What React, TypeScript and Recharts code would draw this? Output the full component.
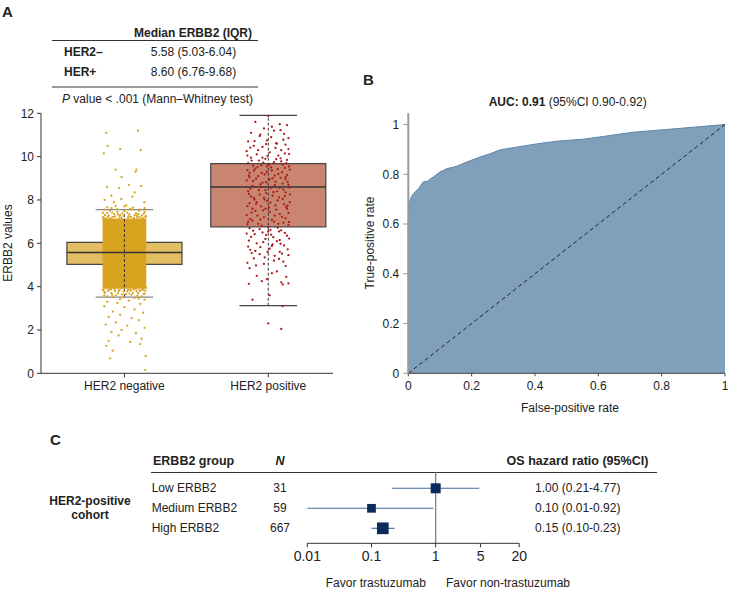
import React from 'react'
import {
  ComposedChart,
  AreaChart,
  ScatterChart,
  Area,
  Scatter,
  XAxis,
  YAxis,
  ReferenceArea,
  ReferenceLine,
} from 'recharts'

const FONT = '"Liberation Sans", Arial, Helvetica, sans-serif'
const INK = '#222'

// ---- panel A: ERBB2 by HER2 status ----
const groups = ['HER2 negative', 'HER2 positive']
const groupPos = [1, 2]
const q1 = [5.03, 6.76]
const medians = [5.58, 8.6]
const q3 = [6.04, 9.68]
const whiskLow = [3.52, 3.12]
const whiskHigh = [7.55, 11.9]
const erbbTicks = [0, 2, 4, 6, 8, 10, 12]

// solid middle of the HER2-negative jitter cloud (too dense to see single dots)
const negCoreLow = 3.9
const negCoreHigh = 7.15

// [jitter offset, ERBB2 value]
const negDots = [
  [-0.126, 11.1], [0.094, 11.2], [-0.117, 10.5], [-0.143, 10.15], [-0.029, 10.35], [0.113, 10.3],
  [-0.061, 9.4], [0.083, 9.4], [0.078, 9.3], [-0.02, 9.05], [-0.122, 8.6], [-0.038, 8.55],
  [0.031, 8.7], [0.117, 8.65], [0.055, 8.15], [0.071, 8.35], [-0.091, 8.2], [-0.022, 8.05],
  [-0.138, 8.0], [-0.073, 7.9], [0.138, 7.9], [0.013, 7.75],
  [-0.14, 7.55], [-0.1, 7.5], [-0.05, 7.58], [0.0, 7.48], [0.05, 7.55], [0.1, 7.5], [0.14, 7.45],
  [-0.12, 7.4], [-0.07, 7.35], [0.02, 7.42], [0.08, 7.38], [0.12, 7.3], [-0.03, 7.3], [-0.15, 7.2],
  [0.15, 7.25], [-0.09, 7.62], [0.06, 7.65],
  [-0.13, 7.15], [-0.08, 7.22], [-0.02, 7.18], [0.03, 7.25], [0.09, 7.2], [0.13, 7.12], [-0.11, 7.28],
  [0.07, 7.3], [-0.05, 7.45], [0.11, 7.55], [-0.15, 7.4], [0.04, 7.6], [-0.12, 7.66], [0.14, 7.62],
  [0.0, 7.7], [-0.06, 7.72],
  [-0.145, 7.19], [-0.115, 7.21], [-0.095, 7.17], [-0.065, 7.24], [-0.035, 7.2], [-0.005, 7.27],
  [0.025, 7.19], [0.045, 7.22], [0.065, 7.17], [0.085, 7.26], [0.105, 7.21], [0.125, 7.18],
  [0.145, 7.22], [-0.135, 7.3], [-0.045, 7.33], [0.035, 7.35], [0.095, 7.34], [-0.085, 7.42],
  [0.135, 7.36], [-0.015, 7.38],
  [-0.145, 3.86], [-0.115, 3.83], [-0.095, 3.87], [-0.065, 3.8], [-0.035, 3.85], [-0.005, 3.78],
  [0.025, 3.86], [0.045, 3.82], [0.065, 3.87], [0.085, 3.79], [0.105, 3.84], [0.125, 3.87],
  [0.145, 3.81], [-0.135, 3.72], [-0.045, 3.7], [0.035, 3.68], [0.095, 3.7], [-0.085, 3.62],
  [0.135, 3.66], [-0.015, 3.64],
  [-0.14, 3.75], [-0.09, 3.7], [-0.04, 3.8], [0.01, 3.65], [0.06, 3.72], [0.11, 3.8], [0.14, 3.68],
  [-0.12, 3.55], [-0.01, 3.5], [0.09, 3.58], [-0.06, 3.6], [0.04, 3.85], [-0.1, 3.9], [0.15, 3.95],
  [-0.15, 3.85],
  [-0.13, 3.95], [-0.07, 3.88], [-0.02, 3.92], [0.02, 3.78], [0.08, 3.9], [0.13, 3.86], [-0.11, 3.82],
  [0.05, 3.62], [-0.08, 3.52], [0.12, 3.55], [-0.14, 3.6], [0.1, 3.45], [-0.03, 3.42], [0.07, 3.48],
  [-0.12, 3.3], [-0.05, 3.25], [0.03, 3.35], [0.11, 3.2], [0.14, 3.4], [-0.14, 3.1], [0.0, 3.05],
  [0.07, 2.95], [-0.08, 2.85], [0.13, 2.8], [-0.03, 2.7], [-0.11, 2.6], [0.05, 2.55], [0.1, 2.45],
  [-0.06, 2.35], [-0.13, 2.25], [0.02, 2.2], [0.14, 2.1], [-0.02, 2.0], [-0.09, 1.9], [0.08, 1.85],
  [-0.04, 1.75], [0.12, 1.6], [-0.11, 1.5], [0.04, 1.45], [-0.126, 1.27], [-0.082, 1.04],
  [-0.1, 0.69], [0.147, 0.8], [0.145, 0.15], [0.11, 1.35],
]

const posDots = [
  [0.0, 11.88], [-0.09, 11.6], [0.13, 11.45], [-0.03, 11.3], [0.08, 11.5], [-0.12, 11.1], [0.04, 11.2],
  [0.11, 11.05], [-0.06, 10.95], [0.14, 10.85], [-0.14, 10.7], [-0.01, 10.75], [0.06, 10.6], [0.12, 10.55],
  [-0.1, 10.5], [0.02, 10.9], [-0.04, 10.45], [0.09, 10.3], [-0.15, 10.25], [0.14, 10.35],
  [-0.08, 10.1], [0.01, 10.2], [0.07, 10.05], [-0.12, 9.95], [-0.02, 9.9], [0.13, 9.85], [0.04, 9.75],
  [-0.14, 9.7], [-0.05, 9.6], [0.1, 9.62], [-0.09, 9.45], [0.02, 9.5], [0.15, 9.4], [-0.01, 9.3],
  [-0.13, 9.25], [0.07, 9.2], [-0.07, 9.1], [0.12, 9.05], [0.01, 8.95], [-0.15, 8.9], [0.05, 8.85],
  [-0.04, 8.8], [0.14, 8.7], [-0.11, 8.65], [0.08, 8.55], [-0.02, 8.45], [-0.14, 8.4], [0.12, 8.35],
  [-0.06, 8.25], [0.03, 8.2], [-0.1, 8.1], [0.1, 8.05], [-0.01, 7.95], [0.15, 7.9], [-0.13, 7.85],
  [0.05, 7.75], [-0.05, 7.7], [0.13, 7.6], [-0.09, 7.5], [0.01, 7.45], [0.08, 7.35], [-0.15, 7.3],
  [-0.03, 7.2], [0.12, 7.15], [-0.11, 7.05], [0.04, 7.0], [-0.07, 6.9], [0.14, 6.85], [0.0, 6.75],
  [-0.13, 6.7], [0.09, 6.6], [-0.04, 6.5], [0.02, 6.4], [-0.12, 6.3], [0.13, 6.35], [-0.02, 6.2],
  [0.06, 6.1], [-0.08, 6.0], [0.11, 5.9], [-0.14, 5.85], [0.01, 5.75], [0.08, 5.6], [-0.06, 5.5],
  [0.14, 5.45], [-0.1, 5.3], [0.04, 5.2], [-0.03, 5.05], [0.12, 4.95], [-0.13, 4.85], [0.06, 4.7],
  [-0.08, 4.5], [-0.01, 4.35], [0.09, 4.2], [-0.135, 4.13], [0.14, 4.15], [0.1, 4.1], [0.01, 3.6],
  [-0.11, 3.4], [0.1, 3.1], [0.0, 2.3], [0.09, 2.05],
  [-0.04, 9.95], [0.09, 9.78], [-0.1, 9.35], [0.03, 9.0], [-0.05, 8.6], [0.12, 8.95], [-0.12, 8.15],
  [0.06, 8.4], [-0.02, 7.6], [0.14, 7.4], [-0.14, 7.0], [0.07, 6.9], [0.0, 6.55], [-0.08, 7.9],
  [0.1, 8.75], [-0.07, 10.3], [0.05, 10.4], [-0.13, 9.05], [0.02, 8.55], [0.13, 9.15], [-0.11, 7.6],
  [-0.03, 8.1], [0.15, 8.25], [-0.06, 6.65], [0.08, 6.15], [-0.09, 5.65], [0.03, 5.95], [-0.15, 6.45],
  [0.11, 7.8], [-0.01, 9.55],
  [-0.145, 10.05], [0.115, 10.15], [-0.065, 9.82], [0.035, 9.68], [0.145, 9.55], [-0.105, 9.58],
  [0.065, 9.42], [-0.025, 9.18], [0.095, 9.28], [-0.135, 9.12], [0.025, 9.36], [-0.085, 8.98],
  [0.135, 8.82], [-0.055, 8.72], [0.045, 8.68], [-0.125, 8.52], [0.105, 8.48], [-0.015, 8.32],
  [0.075, 8.12], [-0.095, 8.02], [0.015, 7.88], [-0.145, 7.72], [0.125, 7.68], [-0.035, 7.52],
  [0.055, 7.55], [-0.075, 7.28], [0.095, 7.22], [-0.125, 7.12], [0.025, 7.08], [0.145, 6.98],
  [-0.045, 6.82], [0.065, 6.72], [-0.105, 6.58], [0.115, 6.48], [-0.015, 6.38], [0.035, 6.28],
  [-0.135, 6.12], [0.085, 5.98], [-0.055, 5.82], [0.135, 5.72], [-0.115, 5.55], [0.045, 5.42],
  [-0.025, 5.35], [0.105, 5.15], [-0.085, 4.98], [0.025, 4.62], [0.125, 4.45], [-0.045, 4.25],
  [-0.145, 5.1], [0.075, 5.28],
  [-0.005, 10.02], [0.085, 9.92], [-0.115, 9.82], [0.055, 9.88], [-0.035, 9.72], [0.125, 9.7],
  [-0.075, 9.52], [0.005, 9.62], [0.115, 9.48], [-0.145, 9.38], [-0.045, 9.25], [0.045, 9.12],
  [-0.105, 8.88], [0.085, 9.02], [-0.015, 8.82], [0.145, 8.58], [-0.065, 8.45], [0.035, 8.36],
  [-0.135, 8.28], [0.115, 8.18], [-0.025, 8.02], [0.065, 7.98], [-0.085, 7.82], [0.135, 7.74],
  [0.005, 7.66], [-0.115, 7.42], [0.045, 7.28], [-0.055, 7.1], [0.105, 6.95], [-0.145, 6.88],
  [0.015, 6.62], [-0.095, 6.42], [0.075, 6.55], [0.145, 6.22], [-0.035, 6.05], [0.025, 5.88],
  [-0.125, 5.7], [0.095, 5.52], [-0.005, 5.6], [0.055, 10.62], [-0.095, 10.72], [0.105, 10.78],
  [-0.055, 11.02], [0.025, 11.38], [-0.125, 10.42], [0.145, 10.12], [0.085, 11.22], [-0.015, 10.58],
]

// ---- panel B: ROC ----
const fprVals = [0, 0, 0.001, 0.003, 0.008, 0.016, 0.032, 0.047, 0.06, 0.079, 0.1, 0.121, 0.153, 0.184,
  0.226, 0.258, 0.29, 0.342, 0.405, 0.469, 0.553, 0.616, 0.71, 0.816, 0.9, 1]
const tprVals = [0, 0.6, 0.64, 0.682, 0.705, 0.722, 0.742, 0.769, 0.772, 0.789, 0.809, 0.822, 0.832, 0.849,
  0.869, 0.882, 0.898, 0.909, 0.922, 0.933, 0.941, 0.952, 0.969, 0.98, 0.989, 1]
const rocTicks = [0, 0.2, 0.4, 0.6, 0.8, 1]

// ---- panel C: forest plot ----
const hrGroups = ['Low ERBB2', 'Medium ERBB2', 'High ERBB2']
const hrN = [31, 59, 667]
const hrVals = [1.0, 0.1, 0.15]
const hrLow = [0.21, 0.01, 0.1]
const hrHigh = [4.77, 0.92, 0.23]
const hrTicks = [0.01, 0.1, 1, 5, 20]

const BOX_W = 0.4
const CAP_W = 0.2
const JIT_W = 0.152
const SQUARE = [10, 8.7, 11.7]

const negPoints = negDots.map(([j, v]) => ({ x: groupPos[0] + j, y: v }))
const posPoints = posDots.map(([j, v]) => ({ x: groupPos[1] + j, y: v }))
const rocData = fprVals.map((f, i) => ({ fpr: f, tpr: tprVals[i] }))
const forestData = hrVals.map((v, i) => ({ x: v, y: i + 1, s: SQUARE[i] }))

const boxFill = ['#E3BD62', '#C98570']
const dotColor = ['#D8A420', '#AE1A1C']

function T({ x, y, children, anchor = 'start', size = 12, bold = false, rotate = false }: any) {
  const tx = anchor === 'middle' ? '-50%' : anchor === 'end' ? '-100%' : '0'
  return (
    <div
      style={{
        position: 'absolute',
        left: x,
        top: y,
        transform: `translate(${tx}, -50%)${rotate ? ' rotate(-90deg)' : ''}`,
        fontSize: size,
        fontWeight: bold ? 700 : 400,
        lineHeight: 1,
        whiteSpace: 'nowrap',
        color: INK,
      }}
    >
      {children}
    </div>
  )
}

function HLine({ x, y, w, color = '#333', h = 1 }: any) {
  return <div style={{ position: 'absolute', left: x, top: y, width: w, height: h, background: color }} />
}

const dot = (color: string) => (p: any) => <circle cx={p.cx} cy={p.cy} r={1.15} fill={color} />

function BoxPanel() {
  const tickStyle = { fontSize: 12, fill: INK, fontFamily: FONT }
  return (
    <ComposedChart width={345} height={300} margin={{ top: 13.3, right: 12, bottom: 6.7, left: 0 }}>
      <XAxis
        type="number"
        dataKey="x"
        domain={[0.42, 2.45]}
        ticks={groupPos}
        tickFormatter={(v) => groups[groupPos.indexOf(v)]}
        allowDataOverflow
        interval={0}
        height={20}
        tickSize={4}
        tickMargin={4}
        stroke="#333"
        tick={tickStyle}
      />
      <YAxis
        type="number"
        dataKey="y"
        domain={[0, 12]}
        ticks={erbbTicks}
        interval={0}
        width={41}
        tickSize={4}
        tickMargin={3}
        stroke="#333"
        tick={tickStyle}
      />
      {groupPos.map((g, i) => (
        <ReferenceArea key={'bf' + i} x1={g - BOX_W} x2={g + BOX_W} y1={q1[i]} y2={q3[i]}
          fill={boxFill[i]} fillOpacity={1} stroke="#444" strokeWidth={1.2} />
      ))}
      <ReferenceArea x1={groupPos[0] - JIT_W} x2={groupPos[0] + JIT_W} y1={negCoreLow} y2={negCoreHigh}
        fill={dotColor[0]} fillOpacity={1} stroke="none" />
      {groupPos.map((g, i) => (
        <ReferenceLine key={'dl' + i} segment={[{ x: g, y: whiskLow[i] }, { x: g, y: whiskHigh[i] }]}
          stroke="#333" strokeDasharray="3 2" />
      ))}
      {groupPos.map((g, i) => (
        <ReferenceLine key={'md' + i} segment={[{ x: g - BOX_W, y: medians[i] }, { x: g + BOX_W, y: medians[i] }]}
          stroke="#333" strokeWidth={1.5} />
      ))}
      {groupPos.map((g, i) => (
        <ReferenceLine key={'wl' + i} segment={[{ x: g - CAP_W, y: whiskLow[i] }, { x: g + CAP_W, y: whiskLow[i] }]}
          stroke={i === 0 ? '#888' : '#444'} strokeWidth={1.3} />
      ))}
      {groupPos.map((g, i) => (
        <ReferenceLine key={'wh' + i} segment={[{ x: g - CAP_W, y: whiskHigh[i] }, { x: g + CAP_W, y: whiskHigh[i] }]}
          stroke={i === 0 ? '#888' : '#444'} strokeWidth={1.3} />
      ))}
      <Scatter data={negPoints} shape={dot(dotColor[0])} isAnimationActive={false} />
      <Scatter data={posPoints} shape={dot(dotColor[1])} isAnimationActive={false} />
    </ComposedChart>
  )
}

function RocPanel() {
  const tickStyle = { fontSize: 12, fill: INK, fontFamily: FONT }
  return (
    <AreaChart width={379} height={300} data={rocData} margin={{ top: 13.3, right: 4, bottom: 6.7, left: 0 }}>
      <XAxis
        type="number"
        dataKey="fpr"
        domain={[0, 1]}
        ticks={rocTicks}
        interval={0}
        height={20}
        tickSize={3}
        tickMargin={5}
        stroke="#444"
        tick={tickStyle}
      />
      <YAxis
        type="number"
        domain={[0, 1.045]}
        ticks={rocTicks}
        interval={0}
        width={58.3}
        tickSize={5}
        tickMargin={4}
        stroke="#999"
        axisLine={{ stroke: '#999', strokeWidth: 2 }}
        tick={tickStyle}
      />
      <Area type="linear" dataKey="tpr" fill="#809FBA" fillOpacity={1} stroke="#5E83A7" strokeWidth={1}
        isAnimationActive={false} />
      <ReferenceLine segment={[{ x: 0, y: 0 }, { x: 1, y: 1 }]} stroke="#222" strokeDasharray="4 3" />
    </AreaChart>
  )
}

const square = (p: any) => {
  const s = p.payload.s
  return <rect x={p.cx - s / 2} y={p.cy - s / 2} width={s} height={s} fill="#0B2C5A" />
}

function ForestPanel() {
  return (
    <ScatterChart width={270} height={110} margin={{ top: 12.3, right: 30.8, bottom: 6.7, left: 27.3 }}>
      <XAxis
        type="number"
        dataKey="x"
        scale="log"
        domain={[0.01, 20]}
        ticks={hrTicks}
        interval={0}
        allowDataOverflow
        height={20}
        tickSize={4}
        tickMargin={4}
        stroke="#333"
        tick={{ fontSize: 14, fill: INK, fontFamily: FONT }}
        tickFormatter={(v) => String(v)}
      />
      <YAxis type="number" dataKey="y" domain={[0.2, 3.75]} reversed hide />
      <ReferenceLine x={1} stroke="#777" strokeWidth={1.2} />
      {hrVals.map((_, i) => (
        <ReferenceLine key={'ci' + i} segment={[{ x: hrLow[i], y: i + 1 }, { x: hrHigh[i], y: i + 1 }]}
          stroke="#3C6B9C" strokeWidth={1.1} />
      ))}
      <Scatter data={forestData} shape={square} isAnimationActive={false} />
    </ScatterChart>
  )
}

export default function App() {
  const rowY = [488.3, 508.3, 528.3]
  return (
    <div
      style={{
        position: 'absolute',
        left: 0,
        top: 0,
        width: 729,
        height: 591,
        background: '#fff',
        fontFamily: FONT,
        color: INK,
        overflow: 'hidden',
      }}
    >
      {/* panel A */}
      <T x={2} y={11} size={15} bold>A</T>
      <T x={193} y={33} anchor="middle" bold>Median ERBB2 (IQR)</T>
      <HLine x={52} y={40} w={206} />
      <T x={64} y={52} bold>HER2–</T>
      <T x={193.5} y={52} anchor="middle">5.58 (5.03-6.04)</T>
      <T x={64} y={72} bold>HER+</T>
      <T x={193.5} y={72} anchor="middle">8.60 (6.76-9.68)</T>
      <HLine x={52} y={86} w={206} h={2} color="#999" />
      <T x={157.5} y={98.5} anchor="middle"><i>P</i> value &lt; .001 (Mann–Whitney test)</T>
      <T x={7.5} y={243} anchor="middle" rotate>ERBB2 values</T>
      <div style={{ position: 'absolute', left: 0, top: 100 }}>
        <BoxPanel />
      </div>

      {/* panel B */}
      <T x={363} y={79} size={15} bold>B</T>
      <T x={567.7} y={101.7} anchor="middle"><b>AUC: 0.91</b> (95%CI 0.90-0.92)</T>
      <T x={370} y={242.7} anchor="middle" rotate>True-positive rate</T>
      <T x={570} y={408.3} anchor="middle">False-positive rate</T>
      <div style={{ position: 'absolute', left: 350, top: 100 }}>
        <RocPanel />
      </div>

      {/* panel C */}
      <T x={50} y={439} size={15} bold>C</T>
      <T x={153} y={460.7} size={12.5} bold>ERBB2 group</T>
      <T x={280} y={460.7} size={12.5} anchor="middle" bold><i>N</i></T>
      <T x={648.3} y={460.7} size={12.5} anchor="end" bold>OS hazard ratio (95%CI)</T>
      <HLine x={150.7} y={472} w={506} />
      <T x={90} y={500.7} anchor="middle" bold>HER2-positive</T>
      <T x={90} y={514.5} anchor="middle" bold>cohort</T>
      {hrGroups.map((g, i) => (
        <React.Fragment key={g}>
          <T x={151.7} y={rowY[i]}>{g}</T>
          <T x={280} y={rowY[i]} anchor="middle">{hrN[i]}</T>
          <T x={535} y={rowY[i]}>
            {hrVals[i].toFixed(2)} ({hrLow[i].toFixed(2)}-{hrHigh[i].toFixed(2)})
          </T>
        </React.Fragment>
      ))}
      <div style={{ position: 'absolute', left: 280, top: 460 }}>
        <ForestPanel />
      </div>
      <T x={375.8} y={583.3} anchor="middle">Favor trastuzumab</T>
      <T x={508} y={583.3} anchor="middle">Favor non-trastuzumab</T>
    </div>
  )
}
